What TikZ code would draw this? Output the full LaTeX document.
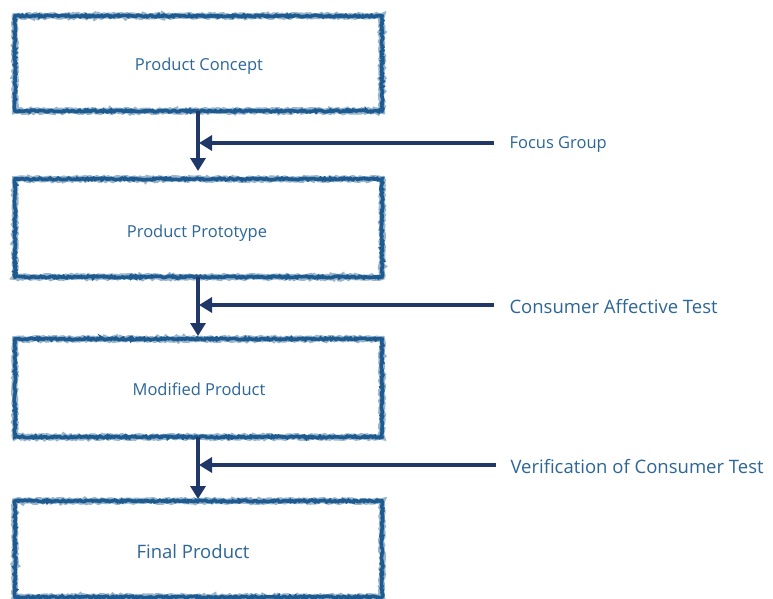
\documentclass[tikz,border=0pt]{standalone}
\usepackage{fontspec}
\setmainfont{Open Sans}
\usetikzlibrary{decorations.pathmorphing,arrows.meta}
\definecolor{boxblue}{HTML}{1D5A90}
\definecolor{txtblue}{HTML}{2C6698}
\definecolor{navy}{HTML}{1F3868}
\tikzset{
  roughbox/.style={draw=boxblue, line width=3.6pt,
    decorate, decoration={random steps, segment length=1.6pt, amplitude=0.9pt}},
  roughhalo/.style={draw=boxblue!45, line width=6pt,
    decorate, decoration={random steps, segment length=2pt, amplitude=1pt}},
  boxtext/.style={text=txtblue, font=\fontsize{16.5}{19}\selectfont},
  bigtext/.style={text=txtblue, font=\fontsize{18.5}{21}\selectfont},
  sidetext/.style={text=txtblue, anchor=west, font=\fontsize{16.5}{19}\selectfont},
  bigside/.style={sidetext, font=\fontsize{18.5}{21}\selectfont},
  flow/.style={draw=navy, line width=3.8pt, -{Triangle[width=15pt,length=13pt]}},
}
\begin{document}
\begin{tikzpicture}[x=1pt,y=-1pt]
\useasboundingbox (0,0) rectangle (773,599);
\fill[white] (0,0) rectangle (773,599);

% rough-edged process boxes
\foreach \t/\b in {16/111, 179/277, 339/437, 501/597}{
  \draw[roughhalo] (15,\t) rectangle (382,\b);
  \draw[roughbox] (15,\t) rectangle (382,\b);
}

% box labels
\node[boxtext] (concept) at (199,66) {Product Concept};
\node[boxtext] (proto) at (197,233) {Product Prototype};
\node[boxtext] (modif) at (199,389) {Modified Product};
\node[bigtext] (final) at (193,552) {Final Product};

\coordinate (b1) at (198,111);
\coordinate (t2) at (198,171);
\coordinate (b2) at (198,277);
\coordinate (t3) at (198,336);
\coordinate (b3) at (198,437);
\coordinate (t4) at (198,499);

% side inputs
\node[sidetext] (focus) at (506,145) {Focus Group};
\node[bigside] (affect) at (506,307) {Consumer Affective Test};
\node[bigside] (verif) at (507,467) {Verification of Consumer Test};

\coordinate (f0) at (494,143);
\coordinate (f1) at (199,143);
\coordinate (a0) at (494,305);
\coordinate (a1) at (199,305);
\coordinate (v0) at (496,465);
\coordinate (v1) at (199,465);

% main flow
\draw[flow] (b1) -- (t2);
\draw[flow] (b2) -- (t3);
\draw[flow] (b3) -- (t4);

% inputs joining the flow
\draw[flow] (f0) -- (f1);
\draw[flow] (a0) -- (a1);
\draw[flow] (v0) -- (v1);
\end{tikzpicture}
\end{document}
